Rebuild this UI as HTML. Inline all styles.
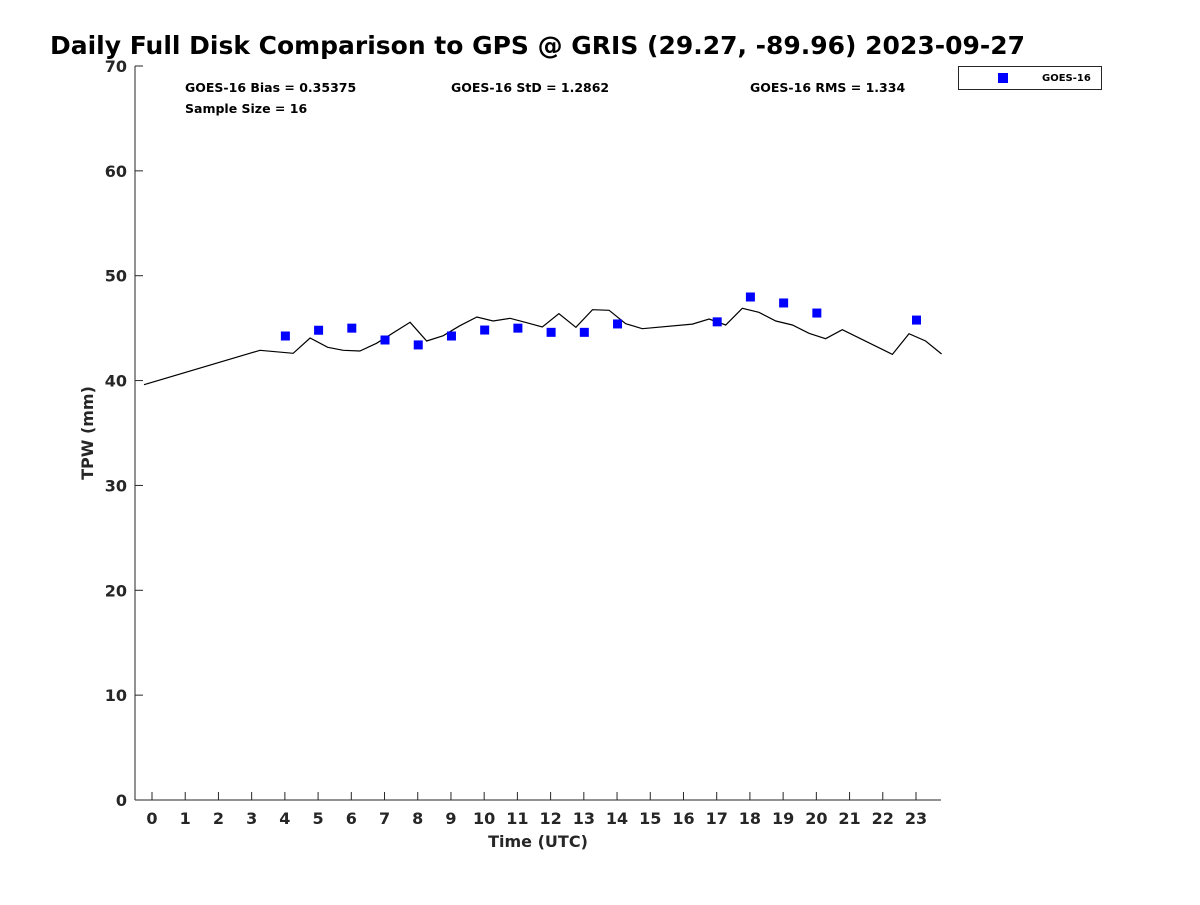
<!DOCTYPE html>
<html><head><meta charset="utf-8"><style>
body{margin:0;background:#fff;font-family:"Liberation Sans","DejaVu Sans",sans-serif;}
svg text{font-family:"DejaVu Sans","Liberation Sans",sans-serif;font-weight:bold;fill:#262626;}
</style></head><body>
<svg id="chart" width="1200" height="900" xmlns="http://www.w3.org/2000/svg">
<rect width="1200" height="900" fill="#fff"/>
<text x="50" y="54" font-size="24.5" textLength="975" lengthAdjust="spacingAndGlyphs" style="fill:#000">Daily Full Disk Comparison to GPS @ GRIS (29.27, -89.96) 2023-09-27</text>
<g id="axes"></g>
<g id="plot"></g>
<text x="185" y="92" font-size="12.5" style="fill:#000">GOES-16 Bias = 0.35375</text>
<text x="451" y="92" font-size="12.5" style="fill:#000">GOES-16 StD = 1.2862</text>
<text x="750" y="92" font-size="12.5" style="fill:#000">GOES-16 RMS = 1.334</text>
<text x="185" y="113" font-size="12.5" style="fill:#000">Sample Size = 16</text>
<g>
<rect x="958.5" y="66.5" width="143" height="23" fill="#fff" stroke="#262626" stroke-width="1"/>
<rect x="998" y="73" width="10" height="10" fill="#0000ff"/>
<text x="1042" y="81" font-size="10" style="fill:#000">GOES-16</text>
</g>
<text x="538" y="847" font-size="16" text-anchor="middle">Time (UTC)</text>
<text transform="translate(93,433) rotate(-90)" font-size="16" text-anchor="middle">TPW (mm)</text>
</svg>
<script>
const gpsHours=[-0.24,3.25,4.25,4.76,5.29,5.76,6.26,6.76,7.77,8.27,8.77,9.27,9.78,10.27,10.78,11.28,11.75,12.25,12.76,13.26,13.76,14.26,14.76,16.27,16.77,17.27,17.77,18.27,18.78,19.28,19.78,20.28,20.78,22.29,22.79,23.29,23.77];
const gpsValues=[39.61,42.89,42.60,44.06,43.17,42.89,42.82,43.55,45.56,43.77,44.28,45.23,46.06,45.68,45.94,45.52,45.11,46.38,45.08,46.76,46.70,45.42,44.95,45.39,45.87,45.30,46.89,46.51,45.68,45.30,44.51,43.99,44.85,42.50,44.47,43.77,42.53];
const goesHours=[4,5,6,7,8,9,10,11,12,13,14,17,18,19,20,23];
const goesValues=[44.25,44.8,45.0,43.87,43.4,44.25,44.82,45.0,44.6,44.6,45.4,45.6,47.97,47.4,46.44,45.77];
const xTicks=[0,1,2,3,4,5,6,7,8,9,10,11,12,13,14,15,16,17,18,19,20,21,22,23];
const yTicks=[0,10,20,30,40,50,60,70];
const NS="http://www.w3.org/2000/svg";
const L=135,R=941,T=66,B=800;
function xs(h){return 152+h*(916-152)/23;}
function ys(v){return B-(v/70)*(B-T);}
function mk(tag,attrs,parent){const e=document.createElementNS(NS,tag);for(const k in attrs)e.setAttribute(k,attrs[k]);parent.appendChild(e);return e;}
const axes=document.getElementById('axes'),plot=document.getElementById('plot');
let a=mk('line',{x1:L,y1:B,x2:R,y2:B,stroke:'#262626','stroke-width':1},axes);


a=mk('line',{x1:L,y1:T,x2:L,y2:B,stroke:'#262626','stroke-width':1},axes);


xTicks.forEach(t=>{
  const x=xs(t);
  const l=mk('line',{x1:x,y1:B,x2:x,y2:B-8,stroke:'#262626'},axes);
  
  
  const tx=mk('text',{x:x,y:824,'font-size':16,'text-anchor':'middle'},axes);tx.textContent=t;
  
  
});
yTicks.forEach(t=>{
  const y=ys(t);
  const l=mk('line',{x1:L,y1:y,x2:L+8,y2:y,stroke:'#262626'},axes);
  
  
  const tx=mk('text',{x:127,y:y+6,'font-size':16,'text-anchor':'end'},axes);tx.textContent=t;
  
  
});
const pts=gpsHours.map((h,i)=>xs(h).toFixed(1)+','+ys(gpsValues[i]).toFixed(1)).join(' ');
const pl=mk('polyline',{points:pts,fill:'none',stroke:'#000','stroke-width':1.2},plot);


goesHours.forEach((h,i)=>{
  const r=mk('rect',{x:xs(h)-4,y:ys(goesValues[i])-4.5,width:9,height:9,fill:'#0000ff'},plot);
  
  
});
</script>
</body></html>
